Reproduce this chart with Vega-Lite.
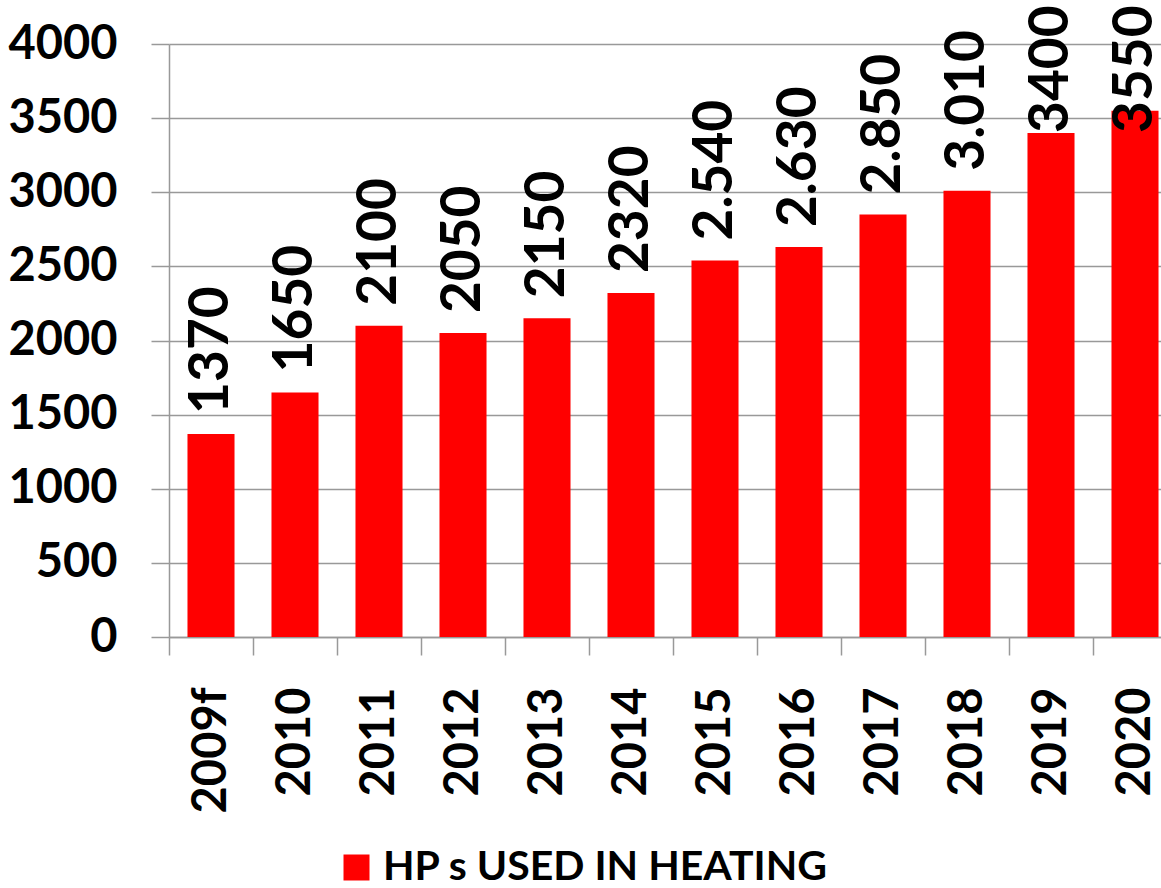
{
  "$schema": "https://vega.github.io/schema/vega-lite/v6.json",
  "autosize": "none",
  "width": 992,
  "height": 593,
  "padding": {"left": 169, "top": 44, "right": 0, "bottom": 251},
  "background": "white",
  "data": {
    "values": [
      {"year": "2009f", "value": 1370, "label": "1370"},
      {"year": "2010", "value": 1650, "label": "1650"},
      {"year": "2011", "value": 2100, "label": "2100"},
      {"year": "2012", "value": 2050, "label": "2050"},
      {"year": "2013", "value": 2150, "label": "2150"},
      {"year": "2014", "value": 2320, "label": "2320"},
      {"year": "2015", "value": 2540, "label": "2.540"},
      {"year": "2016", "value": 2630, "label": "2.630"},
      {"year": "2017", "value": 2850, "label": "2.850"},
      {"year": "2018", "value": 3010, "label": "3.010"},
      {"year": "2019", "value": 3400, "label": "3400"},
      {"year": "2020", "value": 3550, "label": "3550"}
    ]
  },
  "encoding": {
    "x": {
      "field": "year",
      "type": "nominal",
      "sort": null,
      "scale": {"paddingInner": 0, "paddingOuter": 0, "range": [0, 1008]},
      "axis": {
        "title": null,
        "labelAngle": 270,
        "labelFont": "Lato",
        "labelFontWeight": "bold",
        "labelFontSize": 47,
        "labelColor": "black",
        "labelPadding": 32,
        "tickBand": "extent",
        "tickSize": 18,
        "tickColor": "#999999",
        "tickWidth": 1.5,
        "domainColor": "#999999",
        "domainWidth": 1.5,
        "grid": false
      }
    },
    "y": {
      "field": "value",
      "type": "quantitative",
      "scale": {"domain": [0, 4000], "nice": false},
      "axis": {
        "title": null,
        "values": [0, 500, 1000, 1500, 2000, 2500, 3000, 3500, 4000],
        "format": "d",
        "labelFont": "Lato",
        "labelFontWeight": "bold",
        "labelFontSize": 47,
        "labelColor": "black",
        "labelPadding": 34,
        "tickSize": 18,
        "tickColor": "#999999",
        "tickWidth": 1.5,
        "domainColor": "#999999",
        "domainWidth": 1.5,
        "grid": true,
        "gridColor": "#999999",
        "gridWidth": 1.5
      }
    }
  },
  "layer": [
    {
      "mark": {"type": "bar", "width": {"band": 0.56}},
      "encoding": {
        "color": {
          "datum": "HP s USED IN HEATING",
          "type": "nominal",
          "scale": {"range": ["#ff0000"]},
          "legend": {
            "title": null,
            "orient": "none",
            "legendX": 167,
            "legendY": 803,
            "symbolType": "square",
            "symbolSize": 676,
            "symbolStrokeWidth": 0,
            "labelFont": "Lato",
            "labelFontWeight": "bold",
            "labelFontSize": 41,
            "labelColor": "black",
            "labelOffset": 6,
            "labelLimit": 800
          }
        }
      }
    },
    {
      "mark": {
        "type": "text",
        "angle": 270,
        "align": "left",
        "baseline": "middle",
        "font": "Lato",
        "fontWeight": "bold",
        "fontSize": 55,
        "color": "black",
        "dx": {"expr": "min(20, scale('y', datum.value) - 89)"}
      },
      "encoding": {
        "text": {"field": "label"}
      }
    }
  ],
  "config": {
    "view": {"stroke": null}
  }
}
